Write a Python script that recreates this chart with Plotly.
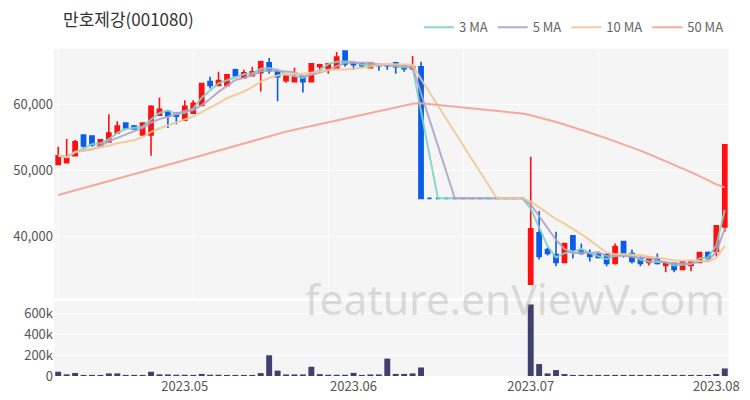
import pandas as pd
import plotly.graph_objects as go

# ---------------- data ----------------
holidays = ["2023-05-01", "2023-05-05", "2023-05-29", "2023-06-06"]
dates = [d.strftime("%Y-%m-%d") for d in pd.bdate_range("2023-04-10", "2023-08-03")
         if d.strftime("%Y-%m-%d") not in holidays]

opens = [50900, 51200, 52240, 55370, 55220, 53730, 54330, 55670, 57160, 56720,
         55370, 55370, 58360, 58960, 58660, 57610, 58660, 59850, 63430, 62840,
         62840, 65220, 64030, 64330, 64780, 66270, 65070, 63580, 63430, 64180,
         63430, 65670, 65370, 65370, 68060, 66270, 66120, 65520, 65970, 65970,
         66270, 65820, 65370, 65670,
         45800, 45800, 45800, 45800, 45800, 45800, 45800, 45800, 45800, 45800, 45800, 45800,
         32840, 40600, 38060, 37310, 36120, 40150, 37910, 37460, 37310, 37310,
         35970, 39260, 37460, 36720, 36120, 36720, 35670, 35970, 35070, 35670,
         36120, 37610, 37760, 41490]
highs = [53580, 54780, 54630, 55370, 55220, 54780, 58510, 57460, 57160, 56870,
         57160, 59850, 61040, 59100, 58660, 60600, 60600, 63130, 64180, 64920,
         64480, 65370, 65220, 65670, 66570, 67010, 65220, 64480, 65520, 64180,
         66120, 66120, 66270, 67910, 68060, 66420, 66270, 66270, 66120, 66120,
         66420, 65970, 67310, 66420,
         45800, 45800, 45800, 45800, 45800, 45800, 45800, 45800, 45800, 45800, 45800, 45800,
         52090, 43880, 38360, 40750, 38960, 40150, 38960, 38060, 37610, 37460,
         38960, 39260, 38060, 37010, 36570, 37460, 35970, 35970, 36270, 36270,
         37610, 37760, 41640, 53880]
lows = [50900, 51050, 52240, 53430, 53580, 53730, 54330, 55670, 56270, 56270,
        55370, 52240, 58360, 56420, 57010, 57610, 58660, 59850, 62390, 62840,
        62690, 64180, 64030, 64330, 61940, 64630, 60450, 63280, 63430, 61790,
        63430, 65070, 64630, 65370, 65670, 65220, 65520, 65520, 65070, 65220,
        64630, 64920, 65220, 45800,
        45800, 45800, 45800, 45800, 45800, 45800, 45800, 45800, 45800, 45800, 45800, 45800,
        32840, 36570, 37160, 35520, 36120, 36720, 37310, 36270, 36720, 35520,
        35820, 36870, 35970, 35520, 35670, 35820, 34630, 34630, 35070, 34780,
        36120, 36570, 37010, 40750]
closes = [52240, 51800, 54330, 53730, 53880, 54630, 55670, 56720, 56420, 56270,
          57160, 59700, 59250, 58210, 58210, 59700, 60150, 63130, 62840, 63580,
          64480, 64330, 64780, 64920, 66420, 65070, 64180, 64330, 64180, 63430,
          66120, 65970, 66120, 67160, 66120, 65970, 65820, 66270, 65820, 65820,
          65670, 65370, 65670, 45800,
          45800, 45800, 45800, 45800, 45800, 45800, 45800, 45800, 45800, 45800, 45800, 45800,
          41190, 37010, 37460, 36120, 38960, 38060, 37460, 37010, 36870, 35970,
          38510, 37310, 36270, 35970, 36570, 35970, 35970, 35070, 36270, 36270,
          37610, 36720, 41640, 53880]
volumes = [41000, 16000, 29000, 10000, 5000, 5000, 25000, 25000, 8000, 8000,
           10000, 41000, 16000, 15000, 12000, 12000, 10000, 20000, 12000, 12000,
           8000, 10000, 10000, 10000, 28000, 200000, 52000, 15000, 15000, 15000,
           89000, 18000, 12000, 12000, 12000, 30000, 8000, 15000, 15000, 168000,
           20000, 20000, 25000, 82000,
           0, 0, 0, 0, 0, 0, 0, 0, 0, 0, 0, 0,
           690000, 115000, 25000, 57000, 19000, 10000, 8000, 6000, 6000, 6000,
           8000, 6000, 6000, 6000, 5000, 6000, 6000, 6000, 6000, 6000,
           6000, 5000, 19000, 73000]
ma50 = [46300, 46650, 46980, 47320, 47660, 48000, 48340, 48680, 49020, 49360,
        49700, 50060, 50430, 50800, 51170, 51540, 51900, 52270, 52640, 53010,
        53380, 53740, 54110, 54480, 54850, 55220, 55600, 55880, 56160, 56440,
        56720, 57000, 57280, 57560, 57840, 58120, 58400, 58680, 58960, 59240,
        59520, 59800, 60080, 60150,
        60020, 59890, 59760, 59630, 59500, 59370, 59240, 59110, 58980, 58850, 58720, 58600,
        58350, 58030, 57690, 57330, 56950, 56560, 56150, 55730, 55300, 54860,
        54410, 53950, 53480, 53000, 52480, 51950, 51400, 50850, 50300, 49750,
        49150, 48500, 47900, 47450]

tick_dates = ["2023-05-02", "2023-06-01", "2023-07-03", "2023-08-02"]
tick_text = ["2023.05", "2023.06", "2023.07", "2023.08"]
ma_names = ["3 MA", "5 MA", "10 MA", "50 MA"]
ma_colors = ["#7fd3c6", "#b3a2c8", "#f0c995", "#f4a292"]

# ---------------- figure ----------------
close_s = pd.Series(closes)
ma_series = [close_s.rolling(3, min_periods=1).mean().tolist(),
             close_s.rolling(5, min_periods=1).mean().tolist(),
             close_s.rolling(10, min_periods=1).mean().tolist(),
             ma50]

fig = go.Figure()
fig.add_trace(go.Candlestick(
    x=dates, open=opens, high=highs, low=lows, close=closes,
    increasing=dict(line=dict(color="#ff1010", width=1.6), fillcolor="#ff1010"),
    decreasing=dict(line=dict(color="#0b5ce6", width=1.6), fillcolor="#0b5ce6"),
    whiskerwidth=0, showlegend=False, xaxis="x", yaxis="y", hoverinfo="skip"))
for name, vals, col in zip(ma_names, ma_series, ma_colors):
    fig.add_trace(go.Scatter(x=dates, y=vals, mode="lines", name=name,
                             line=dict(color=col, width=2), opacity=0.9,
                             xaxis="x", yaxis="y"))
fig.add_trace(go.Bar(x=dates, y=volumes, marker=dict(color="#3f406e", line=dict(width=0)),
                     showlegend=False, xaxis="x2", yaxis="y2"))

font_family = "Noto Sans CJK KR, Noto Sans, sans-serif"
fig.update_layout(
    width=750, height=400,
    margin=dict(l=54, r=21, t=45, b=24),
    paper_bgcolor="white", plot_bgcolor="#f5f5f5",
    font=dict(family=font_family, size=13, color="#555555"),
    bargap=0.3,
    showlegend=True,
    legend=dict(orientation="h", x=1.0, xanchor="right", y=1.066, yanchor="middle",
                font=dict(size=13, color="#666666"), bgcolor="rgba(0,0,0,0)",
                itemwidth=30, tracegroupgap=0),
    title=dict(text="만호제강(001080)", x=63 / 750, xanchor="left", y=1 - 20 / 400, yanchor="middle",
               font=dict(size=17, color="#333333", family=font_family)),
    xaxis=dict(type="category", domain=[0, 1], anchor="y", range=[-0.5, len(dates) - 0.5],
               tickmode="array", tickvals=dates[0::16], showticklabels=False,
               showgrid=True, gridcolor="white", gridwidth=1, rangeslider=dict(visible=False),
               zeroline=False, showline=False, ticks="", automargin=False),
    yaxis=dict(domain=[0.2387, 1], anchor="x", range=[30750, 68360],
               tickvals=[40000, 50000, 60000], tickformat=",", automargin=False,
               showgrid=True, gridcolor="white", gridwidth=1, zeroline=False, ticks="",
               tickfont=dict(size=13, color="#555555")),
    xaxis2=dict(type="category", domain=[0, 1], anchor="y2", matches="x",
                range=[-0.5, len(dates) - 0.5], automargin=False,
                tickmode="array", tickvals=tick_dates, ticktext=tick_text,
                showgrid=False, zeroline=False, showline=False, ticks="",
                ticklabelstandoff=1,
                tickfont=dict(size=13, color="#555555")),
    yaxis2=dict(domain=[0, 0.2296], anchor="x2", range=[0, 724000], automargin=False,
                tickvals=[0, 200000, 400000, 600000], tickformat="~s",
                showgrid=True, gridcolor="white", gridwidth=1, zeroline=False, ticks="",
                tickfont=dict(size=13, color="#555555")),
    annotations=[dict(text="feature.enViewV.com", xref="paper", yref="paper",
                      x=(515 - 54) / 675, y=(376 - 298) / 331, xanchor="center", yanchor="middle",
                      showarrow=False,
                      font=dict(size=42.5, color="rgba(170,170,170,0.4)", family="Noto Sans, sans-serif"))],
)

fig.write_html("out.html", config={"displayModeBar": False},
               post_script="document.body.style.margin='0';")
